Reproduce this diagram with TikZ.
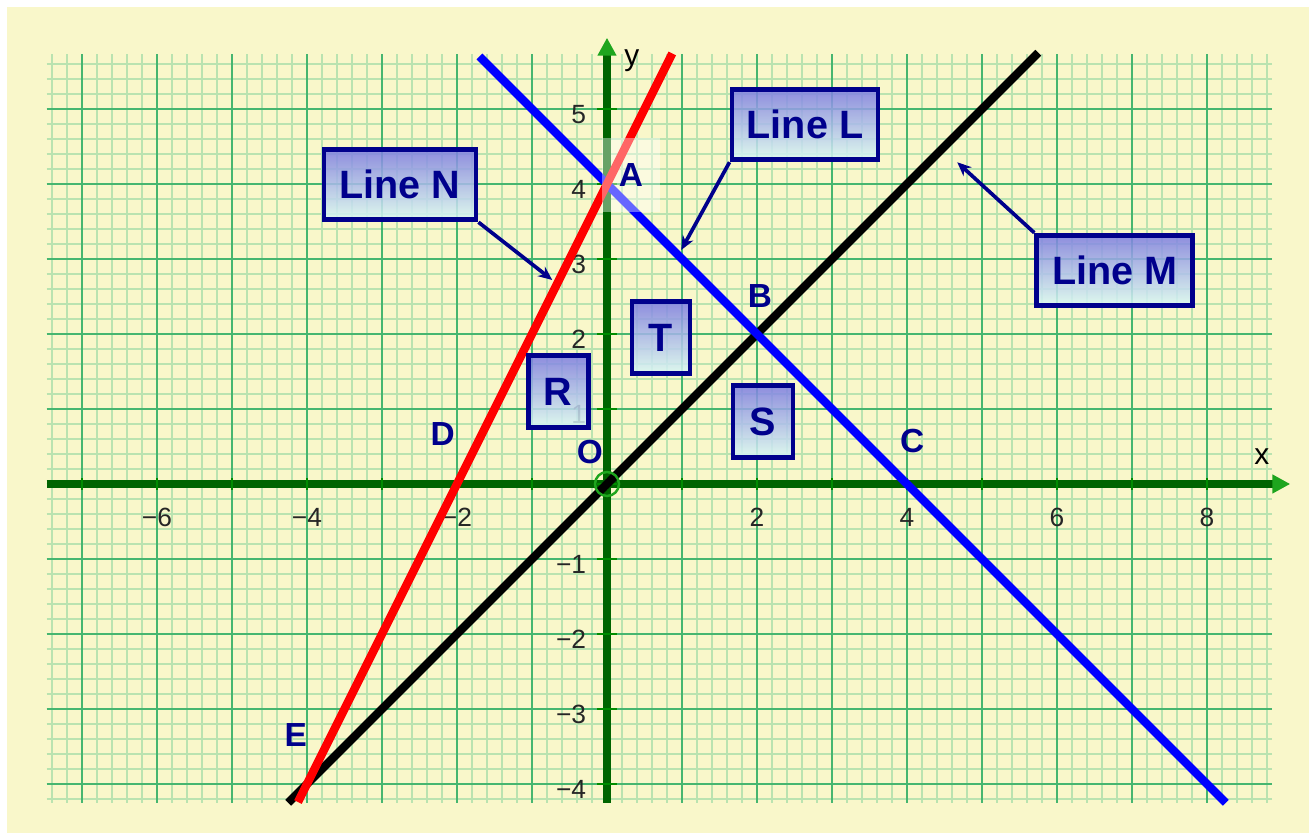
\documentclass[tikz,border=0pt]{standalone}
\usepackage{fontspec}
\setmainfont{Liberation Sans}
\usepackage{tikz}
\usetikzlibrary{arrows.meta,positioning,calc}
\definecolor{myNavy}{RGB}{0,0,140}
\definecolor{myPaper}{RGB}{249,247,202}
\definecolor{myGrid}{RGB}{70,182,112}
\definecolor{myMinor}{RGB}{186,227,176}
\definecolor{myAxis}{RGB}{0,100,0}
\definecolor{myTick}{RGB}{0,140,0}
\definecolor{myTip}{RGB}{30,165,30}
\definecolor{myTop}{RGB}{124,124,226}
\definecolor{myBot}{RGB}{218,250,244}
\tikzset{
	lbox/.style={
		draw=myNavy,
		line width=2.8pt,
		top color=myTop,
		bottom color=myBot,
		fill opacity=0.85,
		text opacity=1,
		text=myNavy,
		inner sep=0pt,
		minimum height=1.4cm,
		font=\fontsize{22.5}{24}\selectfont\bfseries
	},
	larr/.style={-{Stealth[length=2.8mm, width=2.4mm]}, line width=2.1pt, myNavy},
	plab/.style={text=myNavy, inner sep=1pt, font=\fontsize{19}{21}\selectfont\bfseries},
	tlab/.style={text=black!85, inner sep=1pt, font=\fontsize{15}{17}\selectfont},
	gline/.style={line width=4.8pt},
	axis/.style={line width=5pt, myAxis, -{Triangle[color=myTip, length=3.6mm, width=3.6mm]}}
}
\begin{document}
\begin{tikzpicture}[x=1.5cm, y=1.5cm]
	\useasboundingbox (-8.0933,-4.6533) rectangle (9.4,6.4533);
	\fill[white] (-8.0933,-4.6533) rectangle (9.4,6.4533);
	\fill[myPaper] (-8.0,-4.6533) rectangle (9.36,6.36);
	\foreach \i in {-37,...,44} \draw[myMinor, line width=1.1pt] (\i/5,-4.25) -- (\i/5,5.73);
	\foreach \j in {-21,...,28} \draw[myMinor, line width=1.1pt] (-7.47,\j/5) -- (8.87,\j/5);
	\foreach \i in {-7,...,8} \draw[myGrid, line width=1.1pt] (\i,-4.25) -- (\i,5.73);
	\foreach \j in {-4,...,5} \draw[myGrid, line width=1.1pt] (-7.47,\j) -- (8.87,\j);
	\draw[axis] (-7.47,0) -- (9.11,0);
	\draw[axis] (0,-4.25) -- (0,5.95);
	\foreach \i in {-7,...,8} \draw[myTick, line width=1.5pt] (\i,-0.08) -- (\i,0.08);
	\foreach \j in {-4,...,5} \draw[myTick, line width=1.5pt] (-0.13,\j) -- (0.13,\j);
	\foreach \k/\s in {-6/−6,-4/−4,-2/−2,2/2,4/4,6/6,8/8}
		\node[tlab] (tx\k) at (\k,-0.44) {\s};
	\foreach \k/\s in {5/5,4/4,3/3,2/2,1/1,-1/−1,-2/−2,-3/−3,-4/−4}
		\node[tlab, anchor=east] (ty\k) at (-0.25,\k-0.07) {\s};
	\node[font=\fontsize{17}{19}\selectfont, inner sep=0pt] (xl) at (8.73,0.37) {x};
	\node[font=\fontsize{17}{19}\selectfont, inner sep=0pt] (yl) at (0.33,5.65) {y};
	\draw[gline, black] (-4.25,-4.25) -- (5.75,5.75);
	\draw[gline, blue] (-1.7,5.7) -- (8.25,-4.25);
	\draw[gline, red] (-4.12,-4.24) -- (0.87,5.74);
	\node[circle, draw=myTip, line width=1.4pt, minimum size=0.48cm, inner sep=0pt] (o) at (0,0) {};
	\node[lbox, minimum width=2.92cm] (L) at (2.64,4.79) {Line L};
	\node[lbox, minimum width=3.04cm] (N) at (-2.76,3.99) {Line N};
	\node[lbox, minimum width=3.12cm] (M) at (6.77,2.85) {Line M};
	\node[lbox, minimum width=1.16cm, minimum height=1.44cm] (T) at (0.72,1.95) {T};
	\node[lbox, minimum width=1.2cm, minimum height=1.44cm] (R) at (-0.65,1.23) {R};
	\node[lbox, minimum width=1.2cm, minimum height=1.44cm] (S) at (2.08,0.83) {S};
	\coordinate (pL) at (0.99,3.12);
	\coordinate (pN) at (-0.73,2.72);
	\coordinate (pM) at (4.67,4.29);
	\draw[larr] (L.south west) -- (pL);
	\draw[larr] (N.south east) -- (pN);
	\draw[larr] (M.north west) -- (pM);
	\node[plab, fill=white, fill opacity=0.4, text opacity=1, minimum width=1.14cm, minimum height=1.48cm] (A) at (0.32,4.12) {A};
	\node[plab] (B) at (2.04,2.51) {B};
	\node[plab] (C) at (4.07,0.57) {C};
	\node[plab] (D) at (-2.19,0.67) {D};
	\node[plab] (E) at (-4.15,-3.35) {E};
	\node[plab] (O) at (-0.23,0.43) {O};
\end{tikzpicture}
\end{document}
